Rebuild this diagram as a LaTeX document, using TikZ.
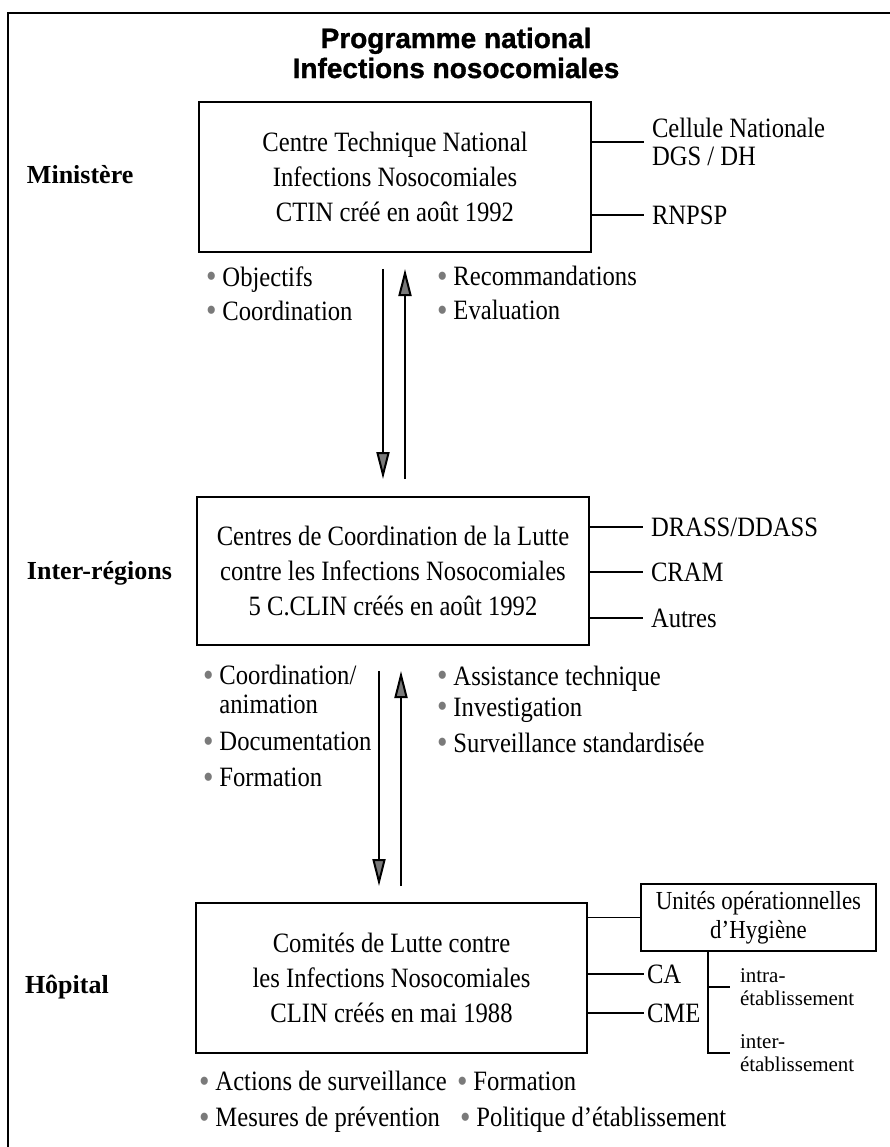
\documentclass[tikz,border=0pt]{standalone}
\usepackage{fontspec}
\setmainfont{Liberation Serif}
\newfontfamily\condfont{Liberation Serif}[FakeStretch=0.88]
\newfontfamily\headfont{Liberation Sans}[BoldFeatures={FakeBold=1.2}]
\usetikzlibrary{arrows.meta, positioning, calc}
\definecolor{cgrey}{HTML}{7A7A7A}
\newcommand\bodyfont{\condfont\fontsize{28}{35}\selectfont}
\newcommand\bul{\textcolor{cgrey}{\raisebox{-1.5pt}{\fontsize{34}{34}\selectfont\textbullet}}\hspace{6pt}}
\tikzset{
  every picture/.style={line width=2pt},
  box/.style={draw, align=center, minimum width=392pt, minimum height=150pt, inner sep=0pt, font=\bodyfont},
  tier/.style={font=\rmfamily\bfseries\fontsize{26}{30}\selectfont, anchor=west, inner sep=0pt},
  side/.style={font=\condfont\fontsize{28}{28}\selectfont, anchor=west, align=left, inner xsep=7pt, inner ysep=0pt},
  items/.style={font=\condfont\fontsize{28}{34}\selectfont, anchor=west, align=left, inner sep=0pt},
  sub/.style={font=\rmfamily\fontsize{21}{23}\selectfont, anchor=west, align=left, inner xsep=9pt, inner ysep=0pt},
  link/.style={line width=1.5pt},
  arrow/.style={-{Triangle[length=27pt, width=13pt, fill=cgrey]}, line width=2pt},
}
\begin{document}
\begin{tikzpicture}[x=1pt, y=-1pt]
  \useasboundingbox (0,0) rectangle (890,1147);
  \draw (890,13) -| (8,1147);
  \node[font=\headfont\bfseries\fontsize{28}{30}\selectfont, align=center] (ttl) at (456,53) {Programme national\\Infections nosocomiales};

  \node[tier] (min) at (26,175) {Ministère};
  \node[tier] (reg) at (26,573) {Inter-régions};
  \node[tier] (hop) at (24,987) {Hôpital};

  \node[box] (ctin) at (395,177) {Centre Technique National\\Infections Nosocomiales\\CTIN créé en août 1992};
  \node[box, minimum height=148pt] (cclin) at (393,571) {Centres de Coordination de la Lutte\\contre les Infections Nosocomiales\\5 C.CLIN créés en août 1992};
  \node[box, minimum width=391pt] (clin) at (391.5,978) {Comités de Lutte contre\\les Infections Nosocomiales\\CLIN créés en mai 1988};

  \node[side] (cel) at (644,142) {Cellule Nationale\\DGS / DH};
  \node[side] (rnp) at (644,215) {RNPSP};
  \draw[link] (cel.west -| ctin.east) -- (cel.west);
  \draw[link] (rnp.west -| ctin.east) -- (rnp.west);
  \foreach \t/\y [count=\i] in {{DRASS/DDASS}/527, CRAM/572, Autres/618} {
    \node[side] (s\i) at (643,\y) {\t};
    \draw[link] (s\i.west -| cclin.east) -- (s\i.west);
  }

  \node[box, minimum width=235pt, minimum height=67pt, font=\condfont\fontsize{26}{29}\selectfont] (uoh) at (758.5,917.5) {Unités opérationnelles\\d’Hygiène};
  \node[side, inner xsep=2pt] (ca) at (644,974) {CA};
  \node[side, inner xsep=2pt] (cme) at (644,1013) {CME};
  \draw[link] (uoh.west -| clin.east) -- (uoh.west);
  \draw[link] (ca.west -| clin.east) -- (ca.west);
  \draw[link] (cme.west -| clin.east) -- (cme.west);
  \node[sub] (intra) at (730,987) {intra-\\établissement};
  \node[sub] (inter) at (730,1053) {inter-\\établissement};
  \coordinate (brk) at ([xshift=68pt]uoh.south west);
  \draw[link] (brk) |- (inter.west);
  \draw[link] (brk |- intra.west) -- (intra.west);

  \coordinate (d1) at ([xshift=-12pt, yshift=-16pt]ctin.south);
  \coordinate (u1) at ([xshift=22pt]d1);
  \coordinate (e1) at ([yshift=17pt]cclin.north);
  \draw[arrow] (d1) -- (d1 |- e1);
  \draw[arrow] (u1 |- e1) -- (u1);
  \coordinate (d2) at ([xshift=-14pt, yshift=-25pt]cclin.south);
  \coordinate (u2) at ([xshift=22pt]d2);
  \coordinate (e2) at ([yshift=16pt]clin.north);
  \draw[arrow] (d2) -- (d2 |- e2);
  \draw[arrow] (u2 |- e2) -- (u2);

  \node[items] (b1) at (205,294) {\bul Objectifs\\\bul Coordination};
  \node[items] (b2) at (436,294) {\bul Recommandations\\\bul Evaluation};
  \node[items, font=\condfont\fontsize{28}{29}\selectfont] (b3) at (202,727) {\bul Coordination/\\\hphantom{\bul}animation\\[8pt]\bul Documentation\\[7pt]\bul Formation};
  \node[items, font=\condfont\fontsize{28}{31}\selectfont] (b4) at (436,710) {\bul Assistance technique\\\bul Investigation\\[5pt]\bul Surveillance standardisée};
  \node[items] (b5) at (198,1082) {\bul Actions de surveillance};
  \node[items] (b6) at (456,1082) {\bul Formation};
  \node[items] (b7) at (198,1120) {\bul Mesures de prévention};
  \node[items] (b8) at (459,1120) {\bul Politique d’établissement};
\end{tikzpicture}
\end{document}
